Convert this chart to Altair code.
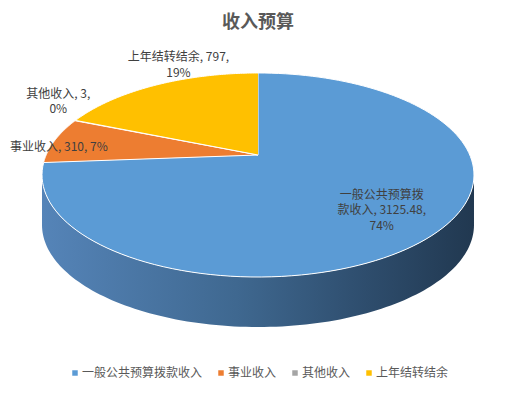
import math
import altair as alt
import pandas as pd

# ---- data ----
categories = ["一般公共预算拨款收入", "事业收入", "其他收入", "上年结转结余"]
values = [3125.48, 310, 3, 797]
colors = ["#5B9BD5", "#ED7D31", "#A5A5A5", "#FFC000"]

# ---- layout (label wrapping / nudges, pie geometry) ----
label_wrap = [[7, 13], [], [8], [12]]
label_radius = [0.72, 1.0, 1.0, 1.0]
label_dx = [0, 4, -17, 22]
label_dy = [2, 7, -19, -20]

W, H = 497, 377
CX, CY = 250, 147          # pie centre (chart pixels)
S, T, K = 211.8, 98.1, 0.196  # perspective ellipse parameters
DEPTH = 50
N = 120
LH = 15.5
AL = math.acos(-K)
AR = 2 * math.pi - AL

total = sum(values)


def wrap(s, widths):
    lines, rest = [], s
    for w in widths:
        lines.append(rest[:w].strip())
        rest = rest[w:]
    lines.append(rest.strip())
    return "\n".join(lines)


labels = []
for c, v, wr in zip(categories, values, label_wrap):
    p = round(v / total * 100)
    labels.append(wrap(f"{c}, {v:g}, {p}%", wr))

df = pd.DataFrame({
    "idx": list(range(len(categories))),
    "category": categories,
    "value": values,
    "label": labels,
    "nlines": [len(l.split("\n")) for l in labels],
    "lr": label_radius,
    "ldx": label_dx,
    "ldy": label_dy,
})

xs = alt.Scale(domain=[0, W], nice=False, zero=False)
ys = alt.Scale(domain=[0, H], nice=False, zero=False, reverse=True)


def proj(r, a):
    w = f"(1 + {K}*({r})*cos({a}))"
    px = f"{CX} + {S}*({r})*sin({a})/{w}"
    py = f"{CY} - {T}*({r})*cos({a})/{w}"
    return px, py


base = (
    alt.Chart(df)
    .transform_joinaggregate(total="sum(value)")
    .transform_window(cum="sum(value)", sort=[alt.SortField("idx")])
    .transform_calculate(
        a0="2*PI*(datum.cum - datum.value)/datum.total",
        a1="2*PI*datum.cum/datum.total",
    )
)

# ---- side wall ----
spx, spy = proj("1", "datum.a")
side = (
    base.transform_calculate(b0=f"max(datum.a0, {AL})", b1=f"min(datum.a1, {AR})")
    .transform_filter("datum.b1 > datum.b0")
    .transform_calculate(t=f"sequence(0, {2 * N + 2})")
    .transform_flatten(["t"])
    .transform_calculate(
        low=f"datum.t > {N} ? 1 : 0",
        a=f"datum.t <= {N} ? datum.b0 + (datum.b1 - datum.b0)*datum.t/{N} : datum.b1 - (datum.b1 - datum.b0)*(datum.t - {N + 1})/{N}",
    )
    .transform_calculate(px=spx, py=f"{spy} + datum.low*{DEPTH}")
    .mark_line(
        filled=True,
        strokeWidth=0,
        fill=alt.Gradient(
            gradient="linear",
            x1=0, x2=1, y1=0, y2=0,
            stops=[
                alt.GradientStop(color="#5584B8", offset=0),
                alt.GradientStop(color="#3F6890", offset=0.45),
                alt.GradientStop(color="#2E4D6D", offset=0.75),
                alt.GradientStop(color="#213850", offset=1),
            ],
        ),
    )
    .encode(
        x=alt.X("px:Q", scale=xs, axis=None),
        y=alt.Y("py:Q", scale=ys, axis=None),
        order="t:Q",
        detail="category:N",
    )
)

# ---- top faces ----
tpx, tpy = proj("datum.r", "datum.a")
top = (
    base.transform_calculate(t=f"sequence(-1, {N + 1})")
    .transform_flatten(["t"])
    .transform_calculate(
        a=f"datum.a0 + (datum.a1 - datum.a0)*max(datum.t, 0)/{N}",
        r="datum.t < 0 ? 0 : 1",
    )
    .transform_calculate(px=tpx, py=tpy)
    .mark_line(filled=True, stroke="white", strokeWidth=1, strokeJoin="round")
    .encode(
        x=alt.X("px:Q", scale=xs, axis=None),
        y=alt.Y("py:Q", scale=ys, axis=None),
        order="t:Q",
        color=alt.Color(
            "category:N",
            scale=alt.Scale(domain=categories, range=colors),
            legend=alt.Legend(
                orient="none",
                legendX=61,
                legendY=359,
                direction="horizontal",
                title=None,
                symbolType="square",
                symbolSize=30,
                symbolStrokeWidth=0,
                labelFontSize=12,
                labelColor="#595959",
                labelFont="Noto Sans CJK SC",
                columnPadding=12,
                labelOffset=1,
                padding=0,
            ),
        ),
    )
)

# ---- data labels ----
lpx, lpy = proj("datum.lr", "datum.am")
text = (
    base.transform_calculate(am="(datum.a0 + datum.a1)/2")
    .transform_calculate(
        lx=f"{lpx} + datum.ldx",
        ly=f"{lpy} + datum.ldy - (datum.nlines - 1)*{LH}/2",
    )
    .mark_text(
        lineBreak="\n",
        fontSize=12,
        lineHeight=LH,
        color="#404040",
        font="Noto Sans CJK SC",
        align="center",
        baseline="middle",
    )
    .encode(
        x=alt.X("lx:Q", scale=xs, axis=None),
        y=alt.Y("ly:Q", scale=ys, axis=None),
        text="label:N",
    )
)

title = (
    alt.Chart(pd.DataFrame({"t": ["收入预算"]}))
    .mark_text(
        fontSize=18,
        fontWeight="bold",
        color="#595959",
        font="Noto Sans CJK SC",
        align="center",
        baseline="middle",
    )
    .encode(x=alt.value(250), y=alt.value(15), text="t:N")
)

chart = (
    alt.layer(side, top, text, title)
    .properties(width=W, height=H, autosize=alt.AutoSizeParams(type="none"), padding=0)
    .configure_view(stroke=None)
)

chart.save("out.html", embed_options={"renderer": "svg", "actions": False})
